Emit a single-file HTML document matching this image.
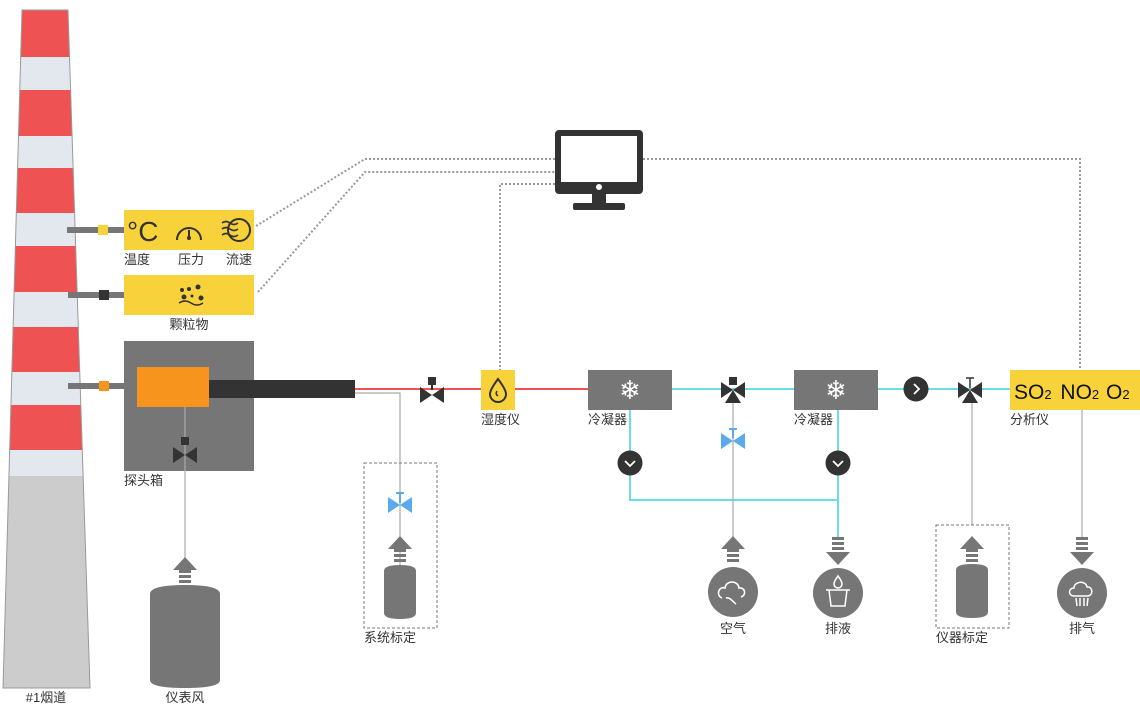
<!DOCTYPE html>
<html><head><meta charset="utf-8"><style>
html,body{margin:0;padding:0;background:#fff;}
svg{display:block;font-family:"Liberation Sans","Noto Sans CJK SC",sans-serif;}
.l{font-size:13px;fill:#333;}
</style></head><body>
<svg width="1140" height="704" viewBox="0 0 1140 704" xmlns="http://www.w3.org/2000/svg">
<defs>
<clipPath id="ch"><polygon points="22,10 68,10 90,688 3,688"/></clipPath>
<g id="valve"><polygon points="-12,-8 0,0 -12,8"/><polygon points="12,-8 0,0 12,8"/></g>
<g id="bottle"><path d="M-16,6 Q-16,0 0,0 Q16,0 16,6 L16,48 Q16,54 0,54 Q-16,54 -16,48 Z" fill="#767676"/></g>
<g id="upArrow" fill="#767676"><polygon points="0,0 12,13 -12,13"/><rect x="-6" y="13" width="12" height="3"/><rect x="-6" y="18" width="12" height="3"/><rect x="-6" y="23" width="12" height="3"/></g>
<g id="downArrow" fill="#767676"><rect x="-6" y="0" width="12" height="3"/><rect x="-6" y="5" width="12" height="3"/><rect x="-6" y="10" width="12" height="3"/><polygon points="-12,15 12,15 0,28"/></g>
</defs>
<!-- chimney -->
<g clip-path="url(#ch)">
<rect x="0" y="0" width="100" height="704" fill="#e3e8ef"/>
<rect x="0" y="10" width="100" height="47" fill="#ee5253"/>
<rect x="0" y="90" width="100" height="46" fill="#ee5253"/>
<rect x="0" y="168" width="100" height="45" fill="#ee5253"/>
<rect x="0" y="246" width="100" height="46" fill="#ee5253"/>
<rect x="0" y="327" width="100" height="45" fill="#ee5253"/>
<rect x="0" y="405" width="100" height="45" fill="#ee5253"/>
<rect x="0" y="476" width="100" height="220" fill="#cccccc"/>
</g>
<polygon points="22,10 68,10 90,688 3,688" fill="none" stroke="#999" stroke-width="1"/>
<text x="46" y="702" class="l" text-anchor="middle">#1烟道</text>

<!-- dotted connections -->
<g fill="none" stroke="#999" stroke-width="2" stroke-dasharray="2,2">
<polyline points="256,226 365,159 555,159"/>
<polyline points="258,292 365,172 555,172"/>
<polyline points="555,184 500,184 500,370"/>
<polyline points="643,159 1080,159 1080,370"/>
</g>
<!-- monitor -->
<rect x="555" y="130" width="88" height="64" rx="4" fill="#333"/>
<rect x="561" y="136" width="76" height="46" fill="#fff"/>
<circle cx="599" cy="187" r="3" fill="#fff"/>
<rect x="592" y="194" width="14" height="10" fill="#333"/>
<rect x="573" y="203" width="52" height="7" rx="2" fill="#333"/>

<!-- sensor arms -->
<rect x="67" y="227" width="57" height="6" fill="#767676"/>
<rect x="98" y="225" width="10" height="10" fill="#f8d23a"/>
<rect x="68" y="292" width="56" height="6" fill="#767676"/>
<rect x="99" y="290" width="10" height="10" fill="#333"/>
<rect x="68" y="383" width="56" height="6" fill="#767676"/>
<rect x="99" y="381" width="10" height="10" fill="#f7941d"/>

<!-- sensor box 1 -->
<rect x="124" y="210" width="130" height="40" fill="#f8d23a"/>
<text x="127" y="241" font-size="28" fill="#333">°C</text>
<path d="M177,240 A12,12 0 0 1 201,240" fill="none" stroke="#333" stroke-width="2"/>
<line x1="189" y1="230" x2="189" y2="237" stroke="#333" stroke-width="2"/>
<circle cx="189" cy="238" r="2" fill="#333"/>
<circle cx="239" cy="230" r="11" fill="none" stroke="#333" stroke-width="2"/>
<path d="M222,223 q4,-3 8,0 t8,0 M222,229 q4,-3 8,0 t8,0 M222,235 q4,-3 8,0 t8,0" fill="none" stroke="#333" stroke-width="1.6"/>
<text x="124" y="264" class="l">温度</text>
<text x="178" y="264" class="l">压力</text>
<text x="226" y="264" class="l">流速</text>
<!-- sensor box 2 -->
<rect x="124" y="275" width="130" height="40" fill="#f8d23a"/>
<g fill="#333"><circle cx="182" cy="290" r="2"/><circle cx="189" cy="289" r="2"/><circle cx="198" cy="287" r="2.5"/><circle cx="184" cy="297" r="2.5"/><circle cx="192" cy="296" r="1.5"/><circle cx="201" cy="298" r="2.5"/></g>
<path d="M179,303 q6,-4 12,0 t12,0" fill="none" stroke="#333" stroke-width="1.5"/>
<text x="189" y="329" class="l" text-anchor="middle">颗粒物</text>

<!-- probe box -->
<rect x="124" y="341" width="130" height="130" fill="#767676"/>
<rect x="137" y="367" width="72" height="40" fill="#f7941d"/>
<rect x="209" y="380" width="146" height="18" fill="#333"/>
<line x1="185" y1="407" x2="185" y2="560" stroke="#aaa" stroke-width="1.2"/>
<rect x="181" y="437" width="8" height="8" fill="#333"/>
<use href="#valve" x="185" y="455" fill="#333"/>
<text x="124" y="485" class="l">探头箱</text>
<!-- instrument air tank -->
<use href="#upArrow" x="185" y="557"/>
<path d="M150,594 Q150,585 185,585 Q220,585 220,594 L220,680 Q220,688 185,688 Q150,688 150,680 Z" fill="#767676"/>
<text x="185" y="702" class="l" text-anchor="middle">仪表风</text>

<!-- main red line -->
<line x1="355" y1="389" x2="588" y2="389" stroke="#ee5253" stroke-width="2"/>
<polyline points="355,393 400,393 400,565" fill="none" stroke="#aaa" stroke-width="1.2"/>
<rect x="428" y="377" width="8" height="8" fill="#333"/>
<line x1="432" y1="385" x2="432" y2="390" stroke="#333" stroke-width="2"/>
<use href="#valve" x="432" y="395" fill="#333"/>
<rect x="481" y="370" width="34" height="40" fill="#f8d23a"/>
<path d="M498,379 C492,387 490,391 490,394 A8,8 0 0 0 506,394 C506,391 504,387 498,379 Z" fill="none" stroke="#333" stroke-width="2"/>
<path d="M497,391 q-2,3 1,5" fill="none" stroke="#333" stroke-width="1.5"/>
<text x="481" y="424" class="l">湿度仪</text>

<!-- system calibration -->
<rect x="364" y="463" width="73" height="165" fill="none" stroke="#777" stroke-dasharray="3,2"/>
<line x1="396" y1="493" x2="404" y2="493" stroke="#5aaaf0" stroke-width="2"/>
<line x1="400" y1="493" x2="400" y2="503" stroke="#5aaaf0" stroke-width="2"/>
<use href="#valve" x="400" y="505" fill="#5aaaf0"/>
<use href="#upArrow" x="400" y="536"/>
<use href="#bottle" x="400" y="565"/>
<text x="364" y="642" class="l">系统标定</text>

<!-- cyan lines -->
<g stroke="#6adde8" stroke-width="2" fill="none">
<line x1="672" y1="389" x2="794" y2="389"/>
<line x1="878" y1="389" x2="1010" y2="389"/>
<polyline points="630,410 630,500 838,500"/>
<line x1="838" y1="410" x2="838" y2="537"/>
</g>
<!-- condensers -->
<rect x="588" y="370" width="84" height="40" fill="#767676"/>
<rect x="794" y="370" width="84" height="40" fill="#767676"/>
<text x="630" y="399" font-family="DejaVu Sans" font-size="26" fill="#fff" text-anchor="middle">❄</text>
<text x="836" y="399" font-family="DejaVu Sans" font-size="26" fill="#fff" text-anchor="middle">❄</text>
<text x="588" y="424" class="l">冷凝器</text>
<text x="794" y="424" class="l">冷凝器</text>
<!-- pumps -->
<circle cx="630" cy="463" r="12.5" fill="#333"/><polyline points="625,461 630,466 635,461" fill="none" stroke="#fff" stroke-width="1.8"/>
<circle cx="838" cy="463" r="12.5" fill="#333"/><polyline points="833,461 838,466 843,461" fill="none" stroke="#fff" stroke-width="1.8"/>
<circle cx="916" cy="389" r="12.5" fill="#333"/><polyline points="914,384 919,389 914,394" fill="none" stroke="#fff" stroke-width="1.8"/>
<!-- 3-way valve 1 -->
<line x1="733" y1="400" x2="733" y2="540" stroke="#aaa" stroke-width="1.2"/>
<rect x="729" y="377" width="8" height="8" fill="#333"/>
<use href="#valve" x="733" y="390" fill="#333"/>
<polygon points="733,390 725,403 741,403" fill="#333"/>
<line x1="729" y1="429" x2="737" y2="429" stroke="#5aaaf0" stroke-width="2"/>
<line x1="733" y1="429" x2="733" y2="438" stroke="#5aaaf0" stroke-width="2"/>
<use href="#valve" x="733" y="441" fill="#5aaaf0"/>
<!-- air -->
<use href="#upArrow" x="733" y="536"/>
<circle cx="733" cy="592" r="25" fill="#767676"/>
<path d="M722,598 c-6,-2 -4,-12 3,-10 c1,-8 13,-8 14,0 c6,-1 8,7 2,9 M726,598 c4,-1 6,3 10,6" fill="none" stroke="#fff" stroke-width="1.6"/>
<text x="733" y="633" class="l" text-anchor="middle">空气</text>
<!-- drain -->
<use href="#downArrow" x="838" y="537"/>
<circle cx="838" cy="593" r="25" fill="#767676"/>
<path d="M838,576 c-3,4 -4,6 -4,8 a4,4 0 0 0 8,0 c0,-2 -1,-4 -4,-8z" fill="none" stroke="#fff" stroke-width="1.5"/>
<path d="M826,590 h24 M829,590 l2,16 h14 l2,-16" fill="none" stroke="#fff" stroke-width="1.5"/>
<text x="838" y="633" class="l" text-anchor="middle">排液</text>

<!-- 3-way valve 2 -->
<line x1="972" y1="400" x2="972" y2="525" stroke="#aaa" stroke-width="1.2"/>
<line x1="966" y1="378" x2="974" y2="378" stroke="#333" stroke-width="1.5"/>
<line x1="970" y1="378" x2="970" y2="388" stroke="#333" stroke-width="1.5"/>
<use href="#valve" x="970" y="390" fill="#333"/>
<polygon points="970,390 962,403 978,403" fill="#333"/>
<rect x="936" y="525" width="73" height="103" fill="none" stroke="#777" stroke-dasharray="3,2"/>
<use href="#upArrow" x="972" y="536"/>
<use href="#bottle" x="972" y="564"/>
<text x="936" y="642" class="l">仪器标定</text>

<!-- analyzer -->
<rect x="1010" y="370" width="130" height="40" fill="#f8d23a"/>
<text x="1014" y="399" font-size="21" fill="#111">SO<tspan font-size="13">2</tspan> <tspan dx="3">NO</tspan><tspan font-size="13">2</tspan> <tspan dx="1">O</tspan><tspan font-size="13">2</tspan></text>
<text x="1010" y="424" class="l">分析仪</text>
<line x1="1082" y1="410" x2="1082" y2="537" stroke="#aaa" stroke-width="1.2"/>
<use href="#downArrow" x="1082" y="537"/>
<circle cx="1082" cy="593" r="25" fill="#767676"/>
<path d="M1074,596 c-6,0 -6,-8 0,-8 c0,-7 12,-8 13,-1 c6,-1 7,9 0,9 z M1076,598 l1,8 M1080,598 v8 M1084,598 v8 M1088,598 l-1,8" fill="none" stroke="#fff" stroke-width="1.5"/>
<text x="1082" y="633" class="l" text-anchor="middle">排气</text>
</svg>
</body></html>
